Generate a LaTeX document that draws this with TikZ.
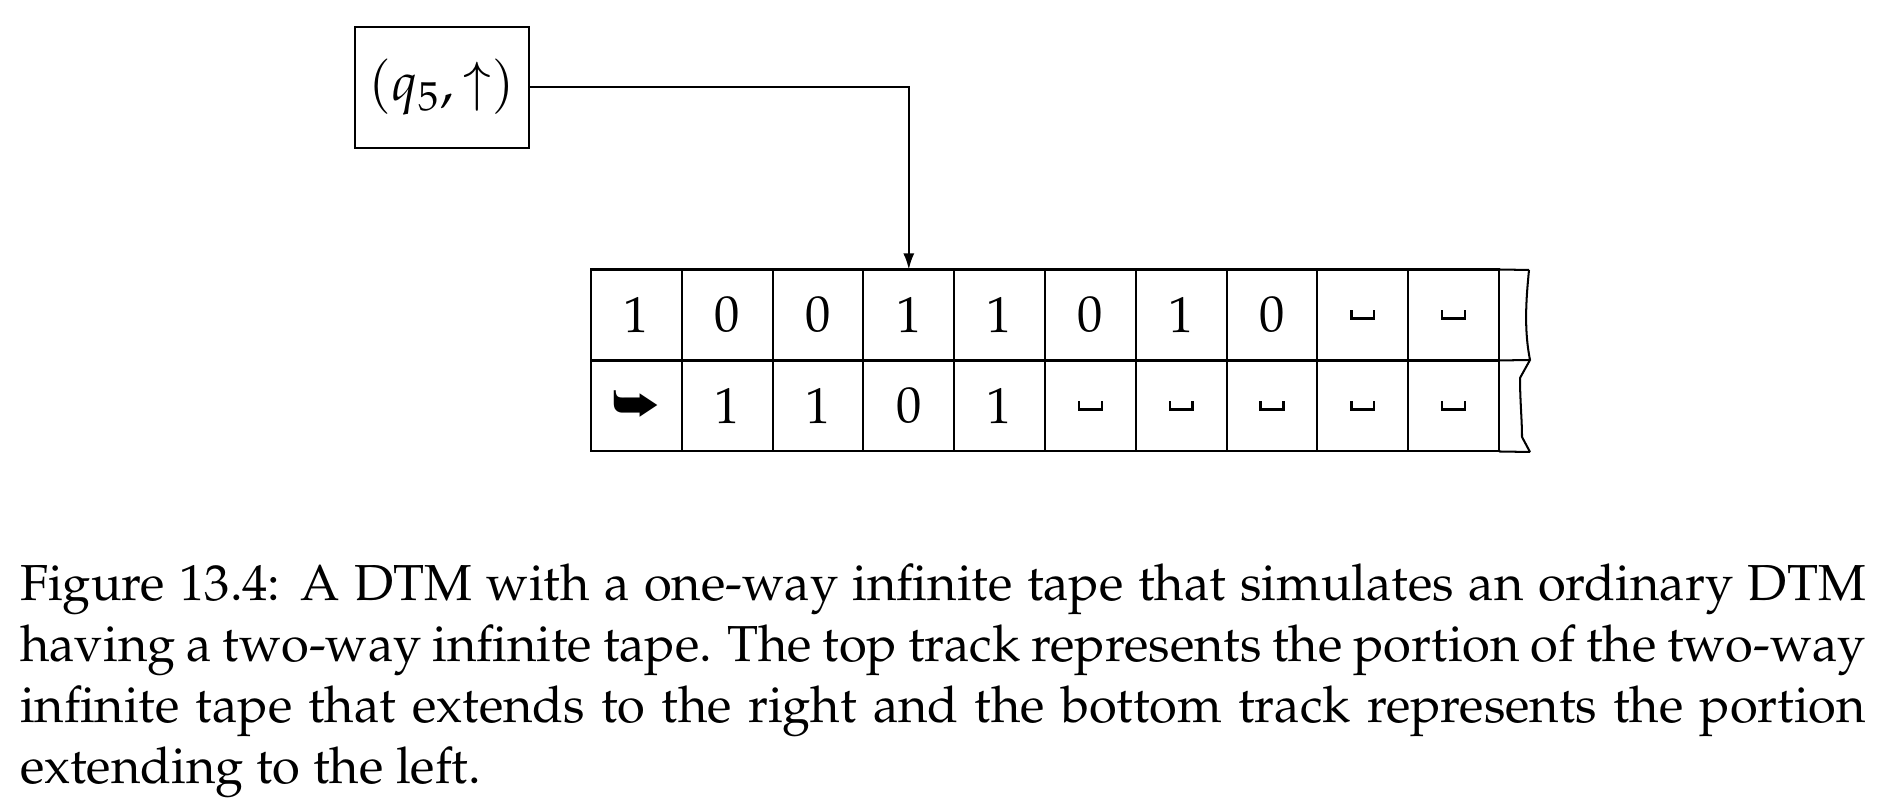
\documentclass[tikz,border=0pt]{standalone}
\usepackage[T1]{fontenc}
\usepackage{mathpazo}
\usepackage{pifont}
\usetikzlibrary{arrows.meta}
\newcommand{\blk}{\textvisiblespace}
\tikzset{
  cell/.style={draw, line width=0.4pt, minimum width=17.94pt, minimum height=17.98pt, inner sep=0pt, outer sep=0pt, font=\fontsize{10}{12}\selectfont},
  headbox/.style={draw, line width=0.4pt, minimum width=34.4pt, minimum height=23.9pt, inner sep=0pt, font=\fontsize{10.5}{12}\selectfont},
  conn/.style={line width=0.4pt, -{Latex[length=3.2pt,width=2.2pt]}},
  edge/.style={line width=0.4pt}
}
\begin{document}
\begin{tikzpicture}[x=0.19762pt, y=-0.19762pt]
\useasboundingbox (0,0) rectangle (1884,806);
\foreach \v [count=\i from 0] in {1,0,0,1,1,0,1,0,\blk,\blk} {
  \node[cell] (t\i) at ({591+90.8*(\i+0.5)},315) {\v};
}
\foreach \v [count=\i from 0] in {\ding{229},1,1,0,1,\blk,\blk,\blk,\blk,\blk} {
  \node[cell] (b\i) at ({591+90.8*(\i+0.5)},406) {\v};
}
\coordinate (ne) at (1529,270);
\coordinate (me) at (1530,360);
\coordinate (se) at (1530,452);
\draw[edge] (t9.north east) -- (ne);
\draw[edge] (t9.south east) -- (me);
\draw[edge] (b9.south east) -- (se);
\draw[edge] (ne) .. controls (1526,300) and (1524,330) .. (me) -- (1520,378) .. controls (1520,400) and (1522,420) .. (1522,437) -- (se);
\node[headbox] (q) at (442,87.5) {$(q_5,\uparrow)$};
\draw[conn] (q.east) -| (t3.north);
\node[anchor=base west, text width=364.8pt, align=justify, inner sep=0pt, font=\fontsize{10}{12}\selectfont] (cap) at (19,601)
{Figure 13.4: A DTM with a one-way infinite tape that simulates an ordinary DTM\linebreak
having a two-way infinite tape. The top track represents the portion of the two-way\linebreak
infinite tape that extends to the right and the bottom track represents the portion\linebreak
extending to the left.};
\end{tikzpicture}
\end{document}
